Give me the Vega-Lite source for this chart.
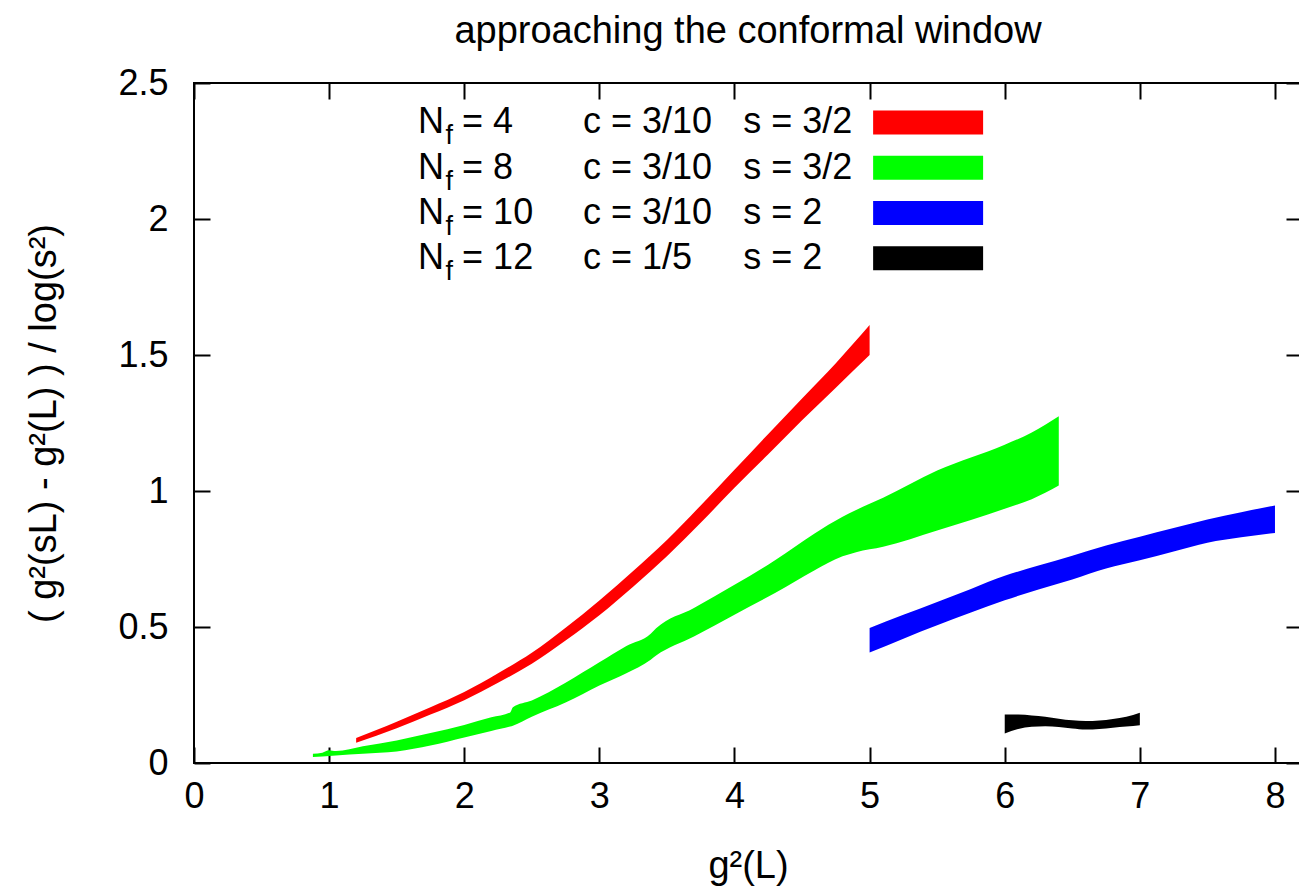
{
  "$schema": "https://vega.github.io/schema/vega-lite/v6.json",
  "width": 1108,
  "height": 680,
  "autosize": "none",
  "padding": {"left": 194, "top": 83, "right": 0, "bottom": 125},
  "background": "white",
  "title": {
    "text": "approaching the conformal window",
    "fontSize": 38,
    "fontWeight": "normal",
    "font": "Liberation Sans",
    "color": "black",
    "anchor": "middle",
    "offset": 14
  },
  "config": {
    "font": "Liberation Sans",
    "view": {"stroke": "black", "strokeWidth": 2},
    "axis": {
      "domain": false,
      "grid": false,
      "tickSize": -16,
      "tickWidth": 2,
      "tickColor": "black",
      "labelFontSize": 36,
      "labelColor": "black",
      "labelFont": "Liberation Sans",
      "labelFlush": false,
      "labelOverlap": false,
      "titleFontSize": 36,
      "titleFontWeight": "normal",
      "titleColor": "black",
      "titleFont": "Liberation Sans"
    },
    "text": {"font": "Liberation Sans", "color": "black"}
  },
  "datasets": {
    "bands": [
      {"series": "4", "x": 1.2, "lo": 0.074, "hi": 0.092},
      {"series": "4", "x": 1.35, "lo": 0.1, "hi": 0.121},
      {"series": "4", "x": 1.5, "lo": 0.128, "hi": 0.152},
      {"series": "4", "x": 1.75, "lo": 0.178, "hi": 0.205},
      {"series": "4", "x": 2.0, "lo": 0.231, "hi": 0.261},
      {"series": "4", "x": 2.25, "lo": 0.295, "hi": 0.33},
      {"series": "4", "x": 2.5, "lo": 0.365, "hi": 0.405},
      {"series": "4", "x": 2.75, "lo": 0.45, "hi": 0.497},
      {"series": "4", "x": 3.0, "lo": 0.543, "hi": 0.597},
      {"series": "4", "x": 3.25, "lo": 0.648, "hi": 0.706},
      {"series": "4", "x": 3.5, "lo": 0.76, "hi": 0.82},
      {"series": "4", "x": 3.75, "lo": 0.883, "hi": 0.947},
      {"series": "4", "x": 4.0, "lo": 1.012, "hi": 1.078},
      {"series": "4", "x": 4.25, "lo": 1.135, "hi": 1.21},
      {"series": "4", "x": 4.5, "lo": 1.26, "hi": 1.34},
      {"series": "4", "x": 4.75, "lo": 1.38, "hi": 1.47},
      {"series": "4", "x": 5.0, "lo": 1.5, "hi": 1.61},

      {"series": "8", "x": 0.88, "lo": 0.022, "hi": 0.034},
      {"series": "8", "x": 0.95, "lo": 0.024, "hi": 0.038},
      {"series": "8", "x": 1.0, "lo": 0.026, "hi": 0.047},
      {"series": "8", "x": 1.05, "lo": 0.028, "hi": 0.044},
      {"series": "8", "x": 1.25, "lo": 0.034, "hi": 0.062},
      {"series": "8", "x": 1.5, "lo": 0.042, "hi": 0.083},
      {"series": "8", "x": 1.75, "lo": 0.064, "hi": 0.11},
      {"series": "8", "x": 2.0, "lo": 0.094, "hi": 0.14},
      {"series": "8", "x": 2.2, "lo": 0.118, "hi": 0.168},
      {"series": "8", "x": 2.34, "lo": 0.134, "hi": 0.186},
      {"series": "8", "x": 2.36, "lo": 0.137, "hi": 0.205},
      {"series": "8", "x": 2.5, "lo": 0.17, "hi": 0.23},
      {"series": "8", "x": 2.75, "lo": 0.222, "hi": 0.295},
      {"series": "8", "x": 3.0, "lo": 0.285, "hi": 0.37},
      {"series": "8", "x": 3.2, "lo": 0.33, "hi": 0.43},
      {"series": "8", "x": 3.38, "lo": 0.38, "hi": 0.475},
      {"series": "8", "x": 3.42, "lo": 0.395, "hi": 0.495},
      {"series": "8", "x": 3.7, "lo": 0.465, "hi": 0.57},
      {"series": "8", "x": 4.0, "lo": 0.545, "hi": 0.655},
      {"series": "8", "x": 4.3, "lo": 0.625, "hi": 0.745},
      {"series": "8", "x": 4.59, "lo": 0.708, "hi": 0.843},
      {"series": "8", "x": 4.8, "lo": 0.76, "hi": 0.905},
      {"series": "8", "x": 4.9, "lo": 0.775, "hi": 0.93},
      {"series": "8", "x": 5.1, "lo": 0.795, "hi": 0.975},
      {"series": "8", "x": 5.5, "lo": 0.855, "hi": 1.075},
      {"series": "8", "x": 6.0, "lo": 0.935, "hi": 1.17},
      {"series": "8", "x": 6.2, "lo": 0.97, "hi": 1.215},
      {"series": "8", "x": 6.4, "lo": 1.02, "hi": 1.275},

      {"series": "10", "x": 5.0, "lo": 0.406, "hi": 0.496},
      {"series": "10", "x": 5.25, "lo": 0.457, "hi": 0.545},
      {"series": "10", "x": 5.5, "lo": 0.506, "hi": 0.592},
      {"series": "10", "x": 5.75, "lo": 0.553, "hi": 0.64},
      {"series": "10", "x": 6.0, "lo": 0.598, "hi": 0.688},
      {"series": "10", "x": 6.25, "lo": 0.638, "hi": 0.726},
      {"series": "10", "x": 6.5, "lo": 0.675, "hi": 0.762},
      {"series": "10", "x": 6.75, "lo": 0.715, "hi": 0.8},
      {"series": "10", "x": 7.0, "lo": 0.745, "hi": 0.832},
      {"series": "10", "x": 7.25, "lo": 0.778, "hi": 0.864},
      {"series": "10", "x": 7.5, "lo": 0.81, "hi": 0.895},
      {"series": "10", "x": 7.75, "lo": 0.83, "hi": 0.922},
      {"series": "10", "x": 8.0, "lo": 0.846, "hi": 0.947},

      {"series": "12", "x": 6.0, "lo": 0.108, "hi": 0.178},
      {"series": "12", "x": 6.1, "lo": 0.125, "hi": 0.178},
      {"series": "12", "x": 6.2, "lo": 0.133, "hi": 0.175},
      {"series": "12", "x": 6.3, "lo": 0.135, "hi": 0.17},
      {"series": "12", "x": 6.4, "lo": 0.132, "hi": 0.163},
      {"series": "12", "x": 6.5, "lo": 0.127, "hi": 0.157},
      {"series": "12", "x": 6.6, "lo": 0.123, "hi": 0.154},
      {"series": "12", "x": 6.7, "lo": 0.125, "hi": 0.156},
      {"series": "12", "x": 6.8, "lo": 0.13, "hi": 0.162},
      {"series": "12", "x": 6.9, "lo": 0.134, "hi": 0.17},
      {"series": "12", "x": 7.0, "lo": 0.139, "hi": 0.185}
    ],
    "key": [
      {"rank": 1, "series": "4", "nf": "= 4", "c": "c = 3/10", "s": "s = 3/2"},
      {"rank": 2, "series": "8", "nf": "= 8", "c": "c = 3/10", "s": "s = 3/2"},
      {"rank": 3, "series": "10", "nf": "= 10", "c": "c = 3/10", "s": "s = 2"},
      {"rank": 4, "series": "12", "nf": "= 12", "c": "c = 1/5", "s": "s = 2"}
    ]
  },
  "resolve": {"scale": {"y": "independent"}},
  "layer": [
    {
      "data": {"name": "bands"},
      "resolve": {"axis": {"x": "independent", "y": "independent"}},
      "layer": [
        {
          "mark": {"type": "area", "interpolate": "monotone"},
          "encoding": {
            "x": {
              "field": "x",
              "type": "quantitative",
              "scale": {"domain": [0, 8.2], "nice": false, "zero": false},
              "axis": {
                "orient": "bottom",
                "values": [0, 1, 2, 3, 4, 5, 6, 7, 8],
                "format": "~g",
                "labelPadding": 32,
                "title": "g²(L)",
                "titleFontSize": 38,
                "titlePadding": 33
              }
            },
            "y": {
              "field": "lo",
              "type": "quantitative",
              "scale": {"domain": [0, 2.5], "nice": false, "zero": false},
              "axis": {
                "orient": "left",
                "values": [0, 0.5, 1, 1.5, 2, 2.5],
                "format": "~g",
                "labelPadding": 42,
                "title": "( g²(sL) - g²(L) ) / log(s²)",
                "titleFontSize": 38,
                "titlePadding": 54
              }
            },
            "y2": {"field": "hi"},
            "color": {
              "field": "series",
              "type": "nominal",
              "scale": {"domain": ["4", "8", "10", "12"], "range": ["#ff0000", "#00ff00", "#0000ff", "#000000"]},
              "legend": null
            }
          }
        },
        {
          "mark": {"type": "point", "opacity": 0},
          "encoding": {
            "x": {
              "field": "x",
              "type": "quantitative",
              "axis": {"orient": "top", "values": [0, 1, 2, 3, 4, 5, 6, 7, 8], "labels": false, "title": null}
            },
            "y": {
              "field": "lo",
              "type": "quantitative",
              "axis": {"orient": "right", "values": [0, 0.5, 1, 1.5, 2, 2.5], "labels": false, "title": null}
            }
          }
        }
      ]
    },
    {
      "data": {"name": "key"},
      "encoding": {
        "y": {
          "field": "rank",
          "type": "quantitative",
          "scale": {"domain": [0.1275, 15.15], "reverse": true, "nice": false, "zero": false},
          "axis": null
        }
      },
      "layer": [
        {
          "mark": {"type": "text", "align": "left", "baseline": "middle", "fontSize": 36},
          "encoding": {
            "x": {"datum": 1.658, "type": "quantitative", "axis": null},
            "text": {"value": "N"}
          }
        },
        {
          "mark": {"type": "text", "align": "left", "baseline": "middle", "fontSize": 27, "dy": 14},
          "encoding": {
            "x": {"datum": 1.862, "type": "quantitative", "axis": null},
            "text": {"value": "f"}
          }
        },
        {
          "mark": {"type": "text", "align": "left", "baseline": "middle", "fontSize": 36},
          "encoding": {
            "x": {"datum": 1.984, "type": "quantitative", "axis": null},
            "text": {"field": "nf"}
          }
        },
        {
          "mark": {"type": "text", "align": "left", "baseline": "middle", "fontSize": 36},
          "encoding": {
            "x": {"datum": 2.879, "type": "quantitative", "axis": null},
            "text": {"field": "c"}
          }
        },
        {
          "mark": {"type": "text", "align": "left", "baseline": "middle", "fontSize": 36},
          "encoding": {
            "x": {"datum": 4.064, "type": "quantitative", "axis": null},
            "text": {"field": "s"}
          }
        },
        {
          "mark": {"type": "rule", "strokeWidth": 24, "strokeCap": "butt"},
          "encoding": {
            "x": {"datum": 5.026, "type": "quantitative", "axis": null},
            "x2": {"datum": 5.84},
            "color": {"field": "series", "type": "nominal", "legend": null}
          }
        }
      ]
    }
  ]
}
